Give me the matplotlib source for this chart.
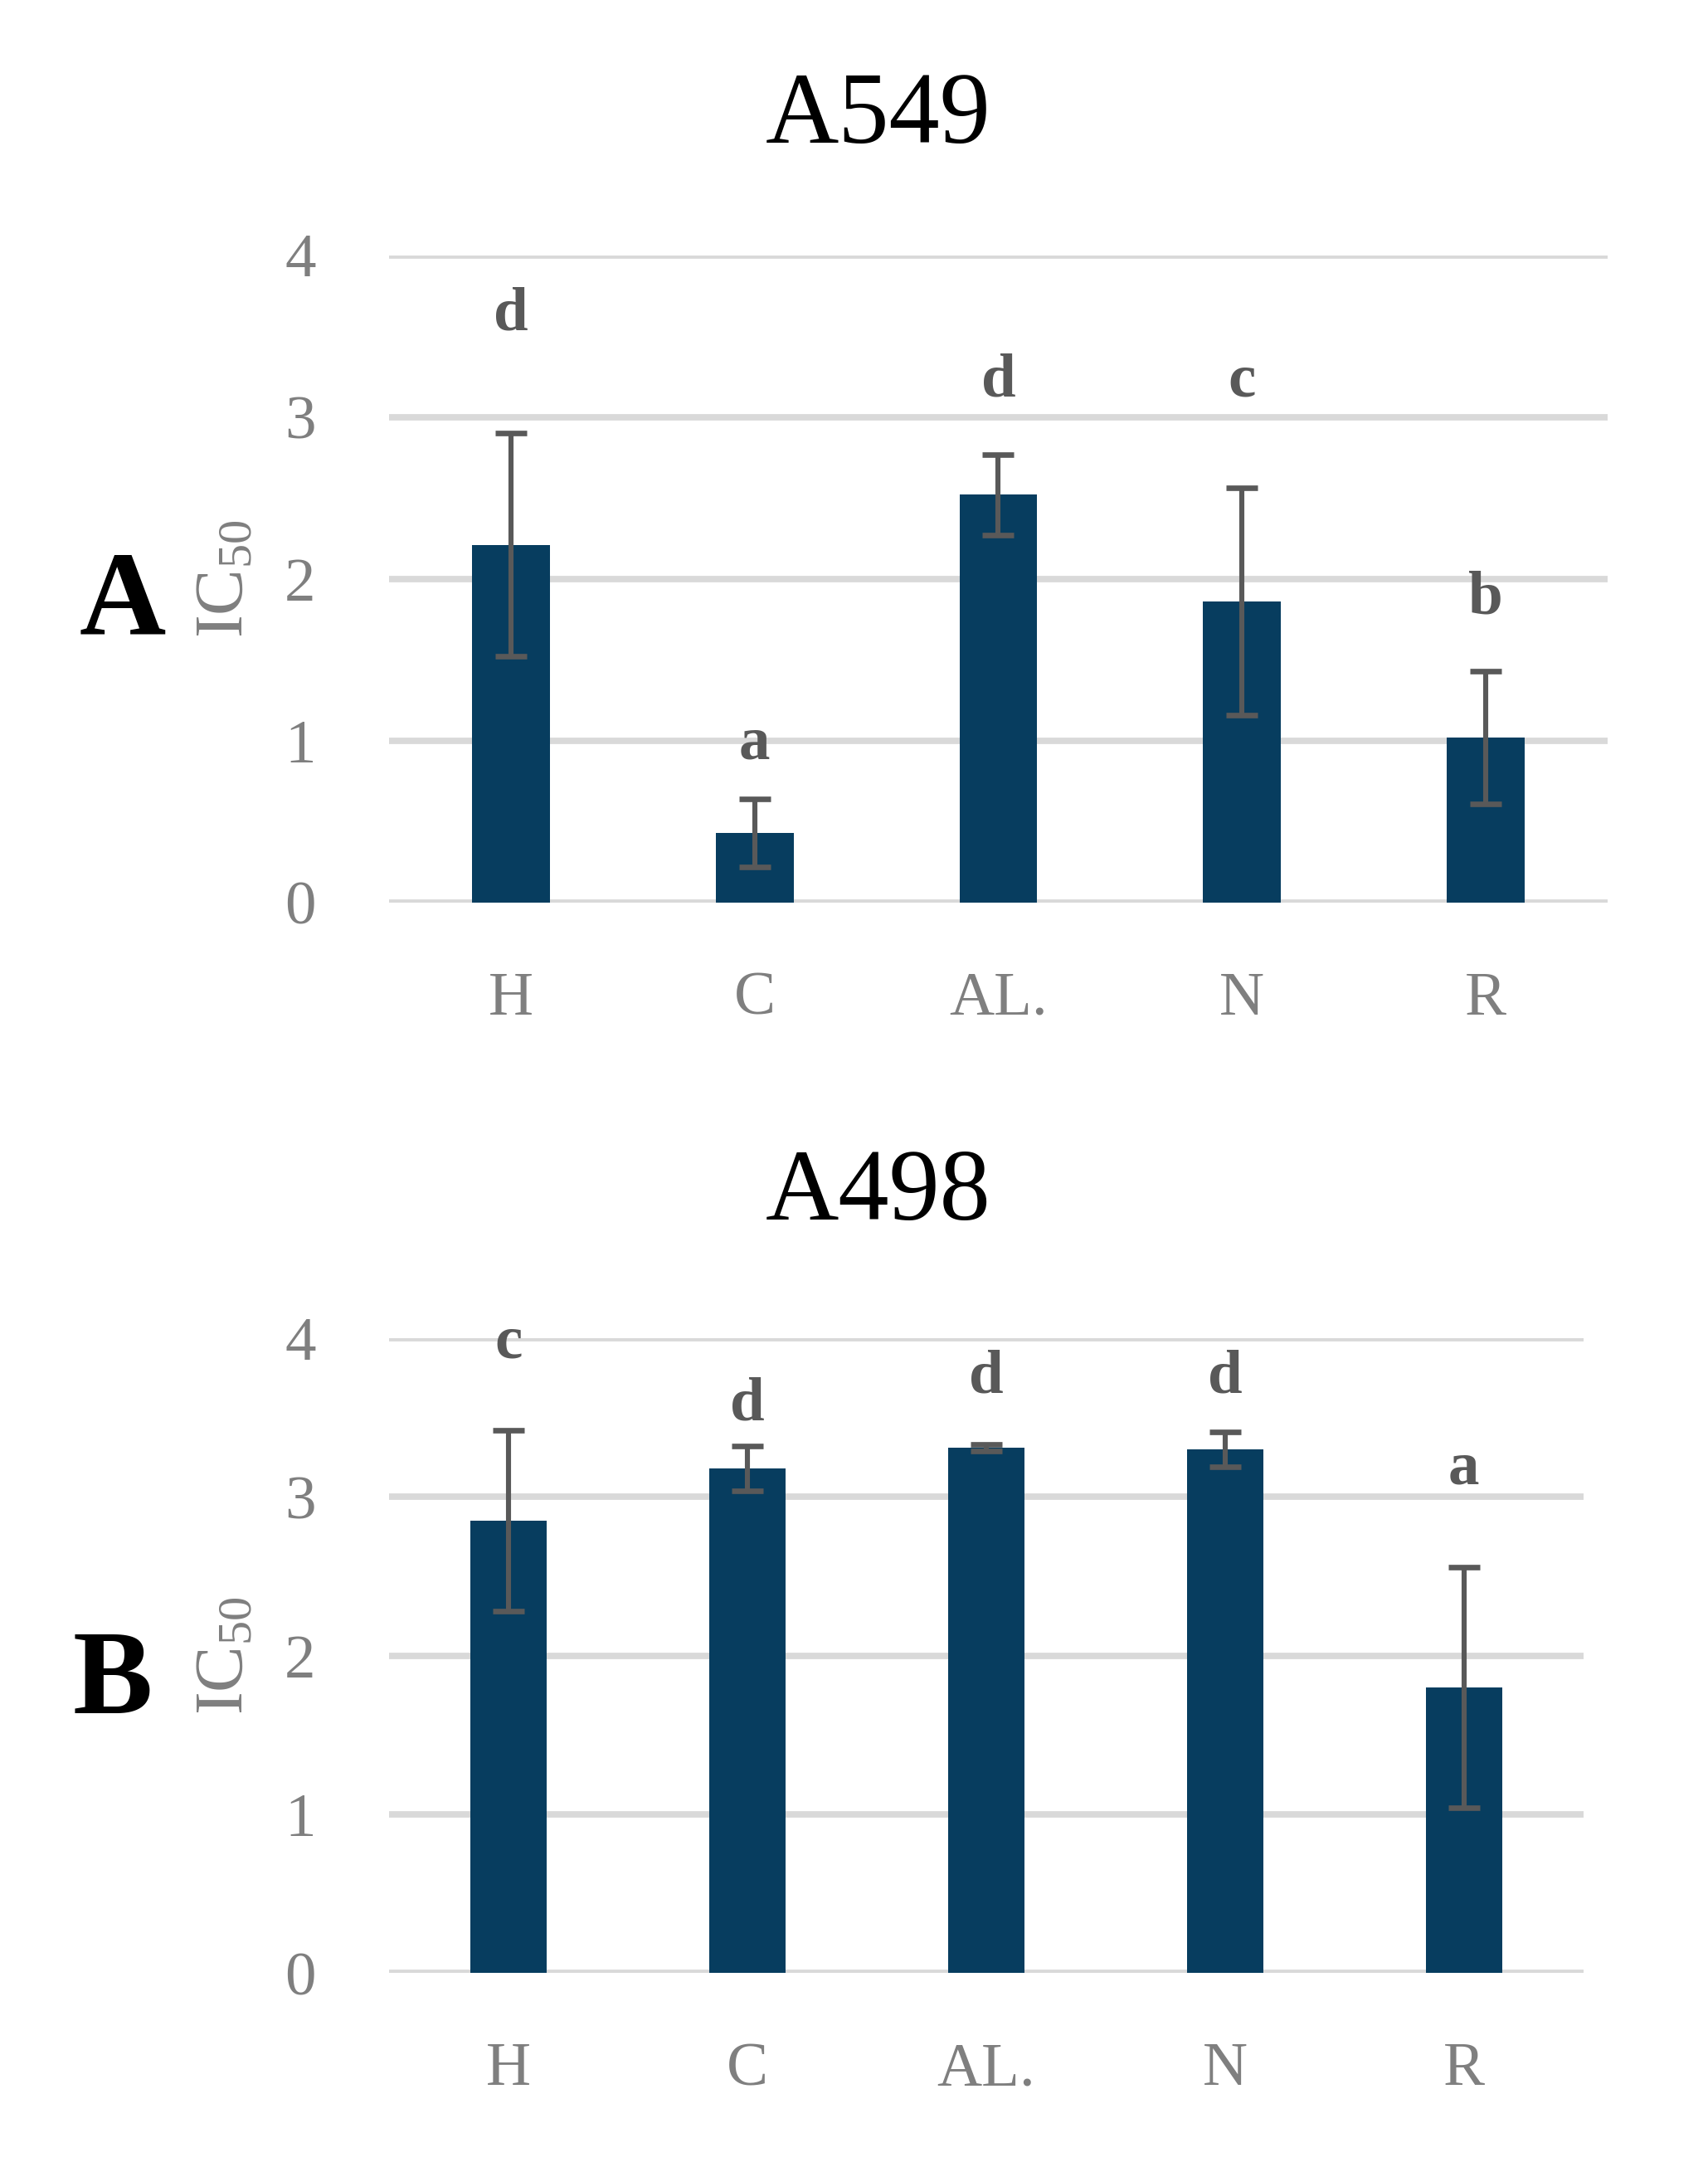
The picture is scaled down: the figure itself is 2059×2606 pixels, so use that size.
import numpy as np
import matplotlib
matplotlib.use("Agg")
from matplotlib import pyplot as plt

plt.rcParams["font.family"] = ["Liberation Serif", "DejaVu Serif"]
plt.rcParams["mathtext.default"] = "regular"

categories = ["H", "C", "AL.", "N", "R"]

a549_mean = [2.21, 0.43, 2.52, 1.86, 1.02]
a549_err = [0.69, 0.21, 0.25, 0.70, 0.41]
a549_letters = ["d", "a", "d", "c", "b"]
a549_letter_y = [3.63, 0.98, 3.22, 3.22, 1.88]

a498_mean = [2.85, 3.18, 3.31, 3.30, 1.80]
a498_err = [0.57, 0.14, 0.02, 0.11, 0.76]
a498_letters = ["c", "d", "d", "d", "a"]
a498_letter_y = [3.97, 3.58, 3.75, 3.75, 3.18]

bar_color = "#073D5F"
err_color = "#595959"
grid_color = "#D9D9D9"
tick_color = "#7F7F7F"

fig = plt.figure(figsize=(2059 / 200, 2606 / 200), dpi=200)

panels = [
    ("A549", "A", [0.228, 0.5825, 0.713, 0.2995], a549_mean, a549_err, a549_letters, a549_letter_y, 0.9455, 0.72),
    ("A498", "B", [0.228, 0.0873, 0.699, 0.2937], a498_mean, a498_err, a498_letters, a498_letter_y, 0.4475, 0.221),
]

for title, tag, rect, mean, err, letters, letter_y, title_y, tag_y in panels:
    ax = fig.add_axes(rect)
    x = np.arange(len(categories))
    ax.set_axisbelow(True)
    ax.yaxis.grid(True, color=grid_color, linewidth=2.8)
    ax.bar(x, mean, width=0.32, color=bar_color, zorder=2)
    ax.errorbar(x, mean, yerr=err, fmt="none", ecolor=err_color,
                elinewidth=2.2, capsize=7, capthick=2.4, zorder=3)
    for xi, lab, ly in zip(x, letters, letter_y):
        ax.text(xi, ly, lab, ha="center", va="center", fontsize=27,
                fontweight="bold", color=err_color)
    ax.set_xlim(-0.5, len(categories) - 0.5)
    ax.set_ylim(0, 4)
    ax.set_yticks([0, 1, 2, 3, 4])
    ax.set_xticks(x)
    ax.set_xticklabels(categories)
    ax.tick_params(length=0, labelsize=27, colors=tick_color)
    ax.tick_params(axis="x", pad=30)
    ax.tick_params(axis="y", pad=32)
    for s in ax.spines.values():
        s.set_visible(False)
    ax.set_ylabel("IC$_{50}$", fontsize=30, color=tick_color, labelpad=12)
    fig.text(0.514, title_y, title, ha="center", va="center", fontsize=44)
    fig.text(0.072 if tag == "A" else 0.066, tag_y, tag, ha="center", va="center",
             fontsize=52, fontweight="bold")

fig.savefig("out.png", dpi=200)
